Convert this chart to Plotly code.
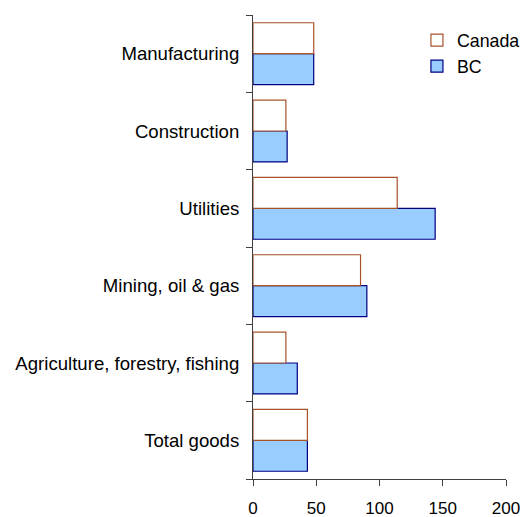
import plotly.graph_objects as go

categories = ["Total goods", "Agriculture, forestry, fishing", "Mining, oil & gas",
              "Utilities", "Construction", "Manufacturing"]
canada = [43, 26, 85, 114, 26, 48]
bc = [43, 35, 90, 144, 27, 48]
x_ticks = [0, 50, 100, 150, 200]

font_family = "Liberation Sans, Arial, sans-serif"

fig = go.Figure()
fig.add_trace(go.Bar(
    y=categories, x=bc, name="BC", orientation="h",
    marker=dict(color="#99CCFF", line=dict(color="#000080", width=1.2)),
))
fig.add_trace(go.Bar(
    y=categories, x=canada, name="Canada", orientation="h",
    marker=dict(color="#FFFFFF", line=dict(color="#A8522A", width=1.2)),
))

fig.update_layout(
    width=523, height=517,
    margin=dict(l=253, r=17, t=15, b=38, autoexpand=False),
    paper_bgcolor="white", plot_bgcolor="white",
    barmode="group", bargap=0.2, bargroupgap=0,
    font=dict(family=font_family, size=17, color="black"),
    showlegend=True,
    legend=dict(
        x=0.648, xanchor="left", y=0.985, yanchor="top",
        traceorder="reversed", bgcolor="rgba(0,0,0,0)",
        font=dict(size=17.8, family=font_family, color="black"),
    ),
    xaxis=dict(
        range=[0, 200], tickvals=x_ticks, ticktext=[str(v) for v in x_ticks],
        showline=True, linecolor="#404040", linewidth=1,
        ticks="outside", ticklen=6, tickcolor="#404040",
        ticklabelstandoff=8,
        showgrid=False, zeroline=False, automargin=False,
        tickfont=dict(size=17, family=font_family, color="black"),
    ),
    yaxis=dict(
        categoryorder="array", categoryarray=categories,
        showline=True, linecolor="#404040", linewidth=1,
        ticks="outside", ticklen=6, tickcolor="#404040",
        tickson="boundaries", ticklabelstandoff=9,
        showgrid=False, zeroline=False, automargin=False,
        tickfont=dict(size=18.6, family=font_family, color="black"),
    ),
)

fig.write_html("out.html")
